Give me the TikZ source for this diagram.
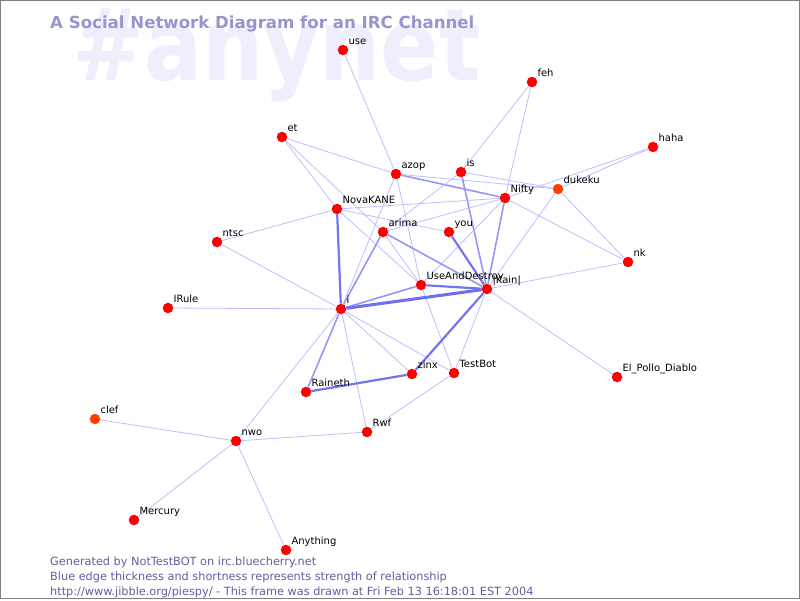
\documentclass[tikz,border=0pt]{standalone}
\usepackage{fontspec}
\setmainfont{DejaVu Sans}
\usepackage{xcolor}
\usepackage{tikz}
\usetikzlibrary{backgrounds}

\definecolor{markcol}{RGB}{238,238,252}
\definecolor{titlecol}{RGB}{150,150,205}
\definecolor{footcol}{RGB}{95,95,160}
\definecolor{edgelight}{RGB}{190,190,255}
\definecolor{edgemid}{RGB}{150,150,250}
\definecolor{edgedark}{RGB}{110,110,240}
\definecolor{nickred}{RGB}{255,0,0}
\definecolor{nickorange}{RGB}{255,64,0}

\begin{document}
\begin{tikzpicture}[x=1pt, y=-1pt]
    \tikzset{
        vertex/.style={circle, fill=nickred, inner sep=0pt, minimum size=10.5pt},
        hot/.style={vertex, fill=nickorange},
        nick/.style={label={[nicklabel]45:#1}},
        nicklabel/.style={anchor=base west, inner sep=0pt, xshift=1.5pt, yshift=1.5pt, font=\fontsize{10}{10}\selectfont},
        weak/.style={draw=edgelight, line width=0.8pt},
        medium/.style={draw=edgemid, line width=1.6pt},
        strong/.style={draw=edgedark!85!edgemid, line width=2.2pt},
        strongest/.style={draw=edgedark, line width=3pt},
        footline/.style={anchor=base west, inner sep=0pt, text=footcol, font=\fontsize{11.3}{11.3}\selectfont}
    }
    \useasboundingbox (0,0) rectangle (800,600);

    \node (Title) [anchor=base west, inner sep=0pt, text=titlecol, font=\fontsize{16.6}{16.6}\selectfont\bfseries] at (50,28) {A Social Network Diagram for an IRC Channel};

    \node (use) [vertex, nick=use] at (343,50) {};
    \node (feh) [vertex, nick=feh] at (532,82) {};
    \node (et) [vertex, nick=et] at (282,137) {};
    \node (haha) [vertex, nick=haha] at (653,147) {};
    \node (is) [vertex, nick=is] at (461,172) {};
    \node (azop) [vertex, nick=azop] at (396,174) {};
    \node (dukeku) [hot, nick=dukeku] at (558,189) {};
    \node (Nifty) [vertex, nick=Nifty] at (505,198) {};
    \node (NovaKANE) [vertex, nick=NovaKANE] at (337,209) {};
    \node (you) [vertex, nick=you] at (449,232) {};
    \node (arima) [vertex, nick=arima] at (383,232) {};
    \node (ntsc) [vertex, nick=ntsc] at (217,242) {};
    \node (nk) [vertex, nick=nk] at (628,262) {};
    \node (UseAndDestroy) [vertex, nick=UseAndDestroy] at (421,285) {};
    \node (Kain) [vertex, nick=|Kain|] at (487,289) {};
    \node (IRule) [vertex, nick=IRule] at (168,308) {};
    \node (i) [vertex, nick=i] at (341,309) {};
    \node (zinx) [vertex, nick=zinx] at (412,374) {};
    \node (TestBot) [vertex, nick=TestBot] at (454,373) {};
    \node (ElPollo) [vertex, nick=El\_Pollo\_Diablo] at (617,377) {};
    \node (Raineth) [vertex, nick=Raineth] at (306,392) {};
    \node (clef) [hot, nick=clef] at (95,419) {};
    \node (Rwf) [vertex, nick=Rwf] at (367,432) {};
    \node (nwo) [vertex, nick=nwo] at (236,441) {};
    \node (Mercury) [vertex, nick=Mercury] at (134,520) {};
    \node (Anything) [vertex, nick=Anything] at (286,550) {};

    \node (Foot1) [footline] at (50,565) {Generated by NotTestBOT on irc.bluecherry.net};
    \node (Foot2) [footline] at (50,580) {Blue edge thickness and shortness represents strength of relationship};
    \node (Foot3) [footline] at (50,595) {http://www.jibble.org/piespy/ - This frame was drawn at Fri Feb 13 16:18:01 EST 2004};

    \begin{scope}[on background layer]
        \fill [white] (0,0) rectangle (800,600);
        \node (Channel) [anchor=base west, inner sep=0pt, text=markcol, font=\fontsize{86}{86}\selectfont\bfseries] at (72,80) {\scalebox{1}[1.16]{\#anynet}};

        \path [weak] (use) -- (azop);
        \path [weak] (feh) -- (is);
        \path [weak] (feh) -- (Nifty);
        \path [weak] (haha) -- (dukeku);
        \path [weak] (haha) -- (Nifty);
        \path [weak] (et) -- (azop);
        \path [weak] (et) -- (NovaKANE);
        \path [weak] (et) -- (arima);
        \path [medium] (azop) -- (Nifty);
        \path [weak] (azop) -- (dukeku);
        \path [weak] (azop) -- (UseAndDestroy);
        \path [weak] (UseAndDestroy) -- (TestBot);
        \path [weak] (is) -- (dukeku);
        \path [weak] (is) -- (arima);
        \path [medium] (is) -- (Kain);
        \path [weak] (NovaKANE) -- (Nifty);
        \path [weak] (NovaKANE) -- (you);
        \path [weak] (NovaKANE) -- (ntsc);
        \path [weak] (NovaKANE) -- (UseAndDestroy);
        \path [strong] (NovaKANE) -- (i);
        \path [weak] (Nifty) -- (arima);
        \path [weak] (Nifty) -- (UseAndDestroy);
        \path [medium] (Nifty) -- (Kain);
        \path [weak] (Nifty) -- (nk);
        \path [weak] (dukeku) -- (nk);
        \path [weak] (dukeku) -- (Kain);
        \path [weak] (nk) -- (Kain);
        \path [strong] (you) -- (Kain);
        \path [medium] (arima) -- (Kain);
        \path [weak] (arima) -- (UseAndDestroy);
        \path [medium] (arima) -- (i);
        \path [weak] (azop) -- (i);
        \path [medium] (i) -- (UseAndDestroy);
        \path [strongest] (i) -- (Kain);
        \path [weak] (i) -- (zinx);
        \path [weak] (i) -- (TestBot);
        \path [medium] (i) -- (Raineth);
        \path [weak] (i) -- (Rwf);
        \path [weak] (i) -- (nwo);
        \path [weak] (i) -- (IRule);
        \path [weak] (i) -- (ntsc);
        \path [strong] (UseAndDestroy) -- (Kain);
        \path [strong] (Kain) -- (zinx);
        \path [weak] (Kain) -- (TestBot);
        \path [weak] (Kain) -- (ElPollo);
        \path [strong] (zinx) -- (Raineth);
        \path [weak] (TestBot) -- (Rwf);
        \path [weak] (nwo) -- (clef);
        \path [weak] (nwo) -- (Mercury);
        \path [weak] (nwo) -- (Anything);
        \path [weak] (nwo) -- (Rwf);
    \end{scope}

    \draw [gray, line width=1pt] (0.5,0.5) rectangle (799.5,598.5);
\end{tikzpicture}
\end{document}
